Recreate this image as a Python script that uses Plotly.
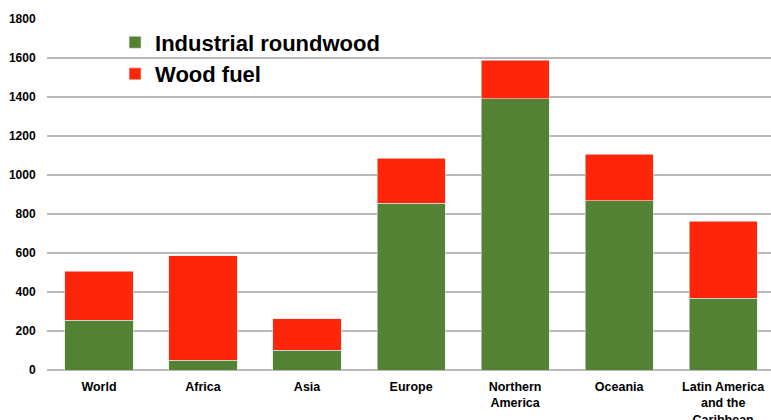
import plotly.graph_objects as go

categories = ["World", "Africa", "Asia", "Europe", "Northern<br>America", "Oceania",
              "Latin America<br>and the<br>Caribbean"]
industrial_roundwood = [254, 49, 101, 854, 1392, 869, 367]
wood_fuel = [253, 538, 161, 231, 197, 238, 395]
y_ticks = [0, 200, 400, 600, 800, 1000, 1200, 1400, 1600, 1800]

GREEN = "#548235"
RED = "#FF250A"
FONT = "Liberation Sans, Arial, sans-serif"

fig = go.Figure()
fig.add_trace(go.Bar(x=list(range(len(categories))), y=industrial_roundwood,
                     name="<b>Industrial roundwood</b>",
                     marker=dict(color=GREEN, line=dict(color="#e6e6e6", width=0.6))))
fig.add_trace(go.Bar(x=list(range(len(categories))), y=wood_fuel,
                     name="<b>Wood fuel</b>",
                     marker=dict(color=RED, line=dict(color="#e6e6e6", width=0.6))))

fig.update_layout(
    barmode="stack",
    bargap=0.345,
    width=771, height=420,
    margin=dict(l=47, r=0, t=19, b=50, autoexpand=False),
    plot_bgcolor="white", paper_bgcolor="white",
    font=dict(family=FONT, color="black"),
    legend=dict(x=0.094, y=0.993, xanchor="left", yanchor="top",
                font=dict(size=22, family=FONT, color="black"),
                bgcolor="rgba(0,0,0,0)", traceorder="normal",
                itemwidth=30, tracegroupgap=0),
    showlegend=True,
)
fig.update_xaxes(
    tickmode="array", tickvals=list(range(len(categories))),
    ticktext=["<b>" + c.replace("<br>", "</b><br><b>") + "</b>" for c in categories],
    range=[-0.5, 6.46], automargin=False,
    tickfont=dict(size=12.5, family=FONT, color="black"),
    ticks="outside", ticklen=5, tickcolor="rgba(0,0,0,0)",
    showgrid=False, showline=False, zeroline=False,
)
fig.update_yaxes(
    range=[0, 1800], tickmode="array", tickvals=y_ticks, automargin=False,
    ticktext=["<b>%d</b>" % v for v in y_ticks],
    tickfont=dict(size=12, family=FONT, color="black"),
    ticks="outside", ticklen=8, tickcolor="rgba(0,0,0,0)",
    showgrid=True, gridcolor="#b8b8b8", gridwidth=1.5,
    zeroline=True, zerolinecolor="#b8b8b8", zerolinewidth=1.5,
    showline=False,
)

fig.write_html("out.html")
